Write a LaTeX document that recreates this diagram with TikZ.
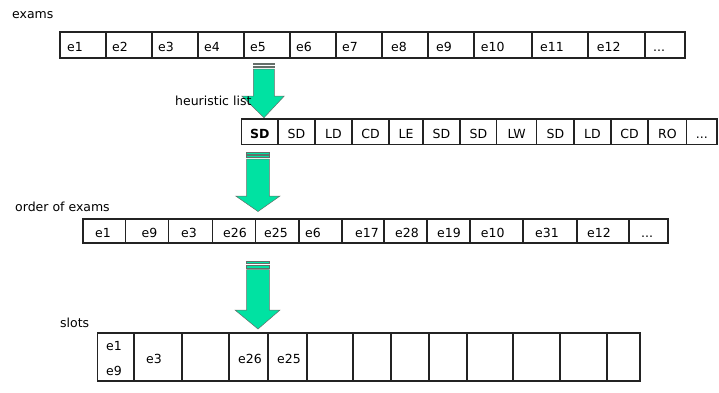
\documentclass[tikz,border=0pt]{standalone}
\usepackage{fontspec}
\setmainfont{DejaVu Sans}
\definecolor{arrowgreen}{RGB}{0,226,162}
\definecolor{arrowedge}{RGB}{100,110,105}
\definecolor{edge}{RGB}{35,35,35}
\newcommand\mydots{...}
\newcommand\boldsd{\textbf{SD}}
\begin{document}
\begin{tikzpicture}[x=1pt,y=-1pt,
  cell/.style={draw=edge, line width=1.1pt, inner sep=0pt, outer sep=0pt, anchor=north west},
  txt/.style={font=\fontsize{12.5}{15}\selectfont, inner sep=0pt, anchor=base west},
  ctxt/.style={font=\fontsize{12.5}{15}\selectfont, inner sep=0pt, anchor=base},
  arr/.style={fill=arrowgreen, draw=arrowedge, line width=0.5pt, line join=miter}]
\useasboundingbox (0,0) rectangle (719,392);

% ---------- block arrows ----------
% arrow 1
\filldraw[arr] (253.3,63) rectangle (274.3,64.6);
\filldraw[arr] (253.3,65.9) rectangle (274.3,67.6);
\filldraw[arr] (253.3,69) -- (274.3,69) -- (274.3,96) -- (284.3,96) -- (264,117.7) -- (241.7,96) -- (253.3,96) -- cycle;
% arrow 2
\filldraw[arr] (246.7,152.3) rectangle (269.3,153.9);
\filldraw[arr] (246.7,155.2) rectangle (269.3,157.4);
\filldraw[arr] (246.7,159) -- (269.3,159) -- (269.3,196) -- (280,196) -- (258,211.5) -- (235.7,196) -- (246.7,196) -- cycle;
% arrow 3
\filldraw[arr] (246.7,261.6) rectangle (269.3,263.3);
\filldraw[arr] (246.7,265.2) rectangle (269.3,267.8);
\filldraw[arr] (246.7,269.6) -- (269.3,269.6) -- (269.3,310) -- (280,310) -- (258,329) -- (235,310) -- (246.7,310) -- cycle;

% ---------- labels ----------
\node[txt] (lexams) at (12,18.3) {exams};
\node[txt] (lheur) at (175,105) {heuristic list};
\node[txt] (lorder) at (15,211.7) {order of exams};
\node[txt] (lslots) at (60,327) {slots};

% ---------- row 1: exams ----------
\foreach \i/\x/\xx/\tx/\t in {1/60/106/67/e1, 2/106/152/112/e2, 3/152/198/158/e3, 4/198/244/204/e4,
  5/244/290/250/e5, 6/290/336/296/e6, 7/336/382/342/e7, 8/382/428/391/e8, 9/428/474/436/e9,
  10/474/532/480.7/e10, 11/532/588/540/e11, 12/588/645/596.7/e12, 13/645/685/653/\mydots}{
  \pgfmathsetmacro\w{\xx-\x}
  \node[cell, minimum width=\w pt, minimum height=26pt] (ra\i) at (\x,32) {};
  \node[txt] (ta\i) at (\tx,51.7) {\t};
}

% ---------- row 2: heuristic list ----------
\foreach \i/\x/\xx/\t in {1/241.7/278/\boldsd, 2/278/315/SD, 3/315/352/LD, 4/352/389/CD,
  5/389/423/LE, 6/423/460/SD, 7/460/496.7/SD, 8/496.7/536.7/LW, 9/536.7/574/SD, 10/574/611/LD,
  11/611/648/CD, 12/648/686.7/RO, 13/686.7/717/\mydots}{
  \pgfmathsetmacro\w{\xx-\x}
  \pgfmathsetmacro\cx{(\xx+\x)/2}
  \node[cell, minimum width=\w pt, minimum height=25.5pt] (rb\i) at (\x,119) {};
  \node[ctxt] (tb\i) at (\cx,138.3) {\t};
}

% ---------- row 3: order of exams ----------
\foreach \i/\x/\xx/\tx/\t in {1/83/125.5/95/e1, 2/125.5/168.5/141.5/e9, 3/168.5/212.3/181/e3, 4/212.3/255.7/223/e26,
  5/255.7/299/264/e25, 6/299/342/305/e6, 7/342/384/355/e17, 8/384/427/395/e28, 9/427/470/437/e19,
  10/470/523/480.7/e10, 11/523/577/535/e31, 12/577/629/587/e12, 13/629/668/641/\mydots}{
  \pgfmathsetmacro\w{\xx-\x}
  \node[cell, minimum width=\w pt, minimum height=24pt] (rc\i) at (\x,219) {};
  \node[txt] (tc\i) at (\tx,237.3) {\t};
}

% ---------- row 4: slots ----------
\foreach \i/\x/\xx in {1/97.7/134, 2/134/182, 3/182/229, 4/229/268, 5/268/307, 6/307/353,
  7/353/391, 8/391/429, 9/429/467, 10/467/513, 11/513/560, 12/560/607, 13/607/640}{
  \pgfmathsetmacro\w{\xx-\x}
  \node[cell, minimum width=\w pt, minimum height=48pt] (rd\i) at (\x,333) {};
}
\node[txt] (td1a) at (106,350) {e1};
\node[txt] (td1b) at (106,375) {e9};
\node[txt] (td2) at (146,363) {e3};
\node[txt] (td4) at (238,363) {e26};
\node[txt] (td5) at (277,363) {e25};
\end{tikzpicture}
\end{document}
